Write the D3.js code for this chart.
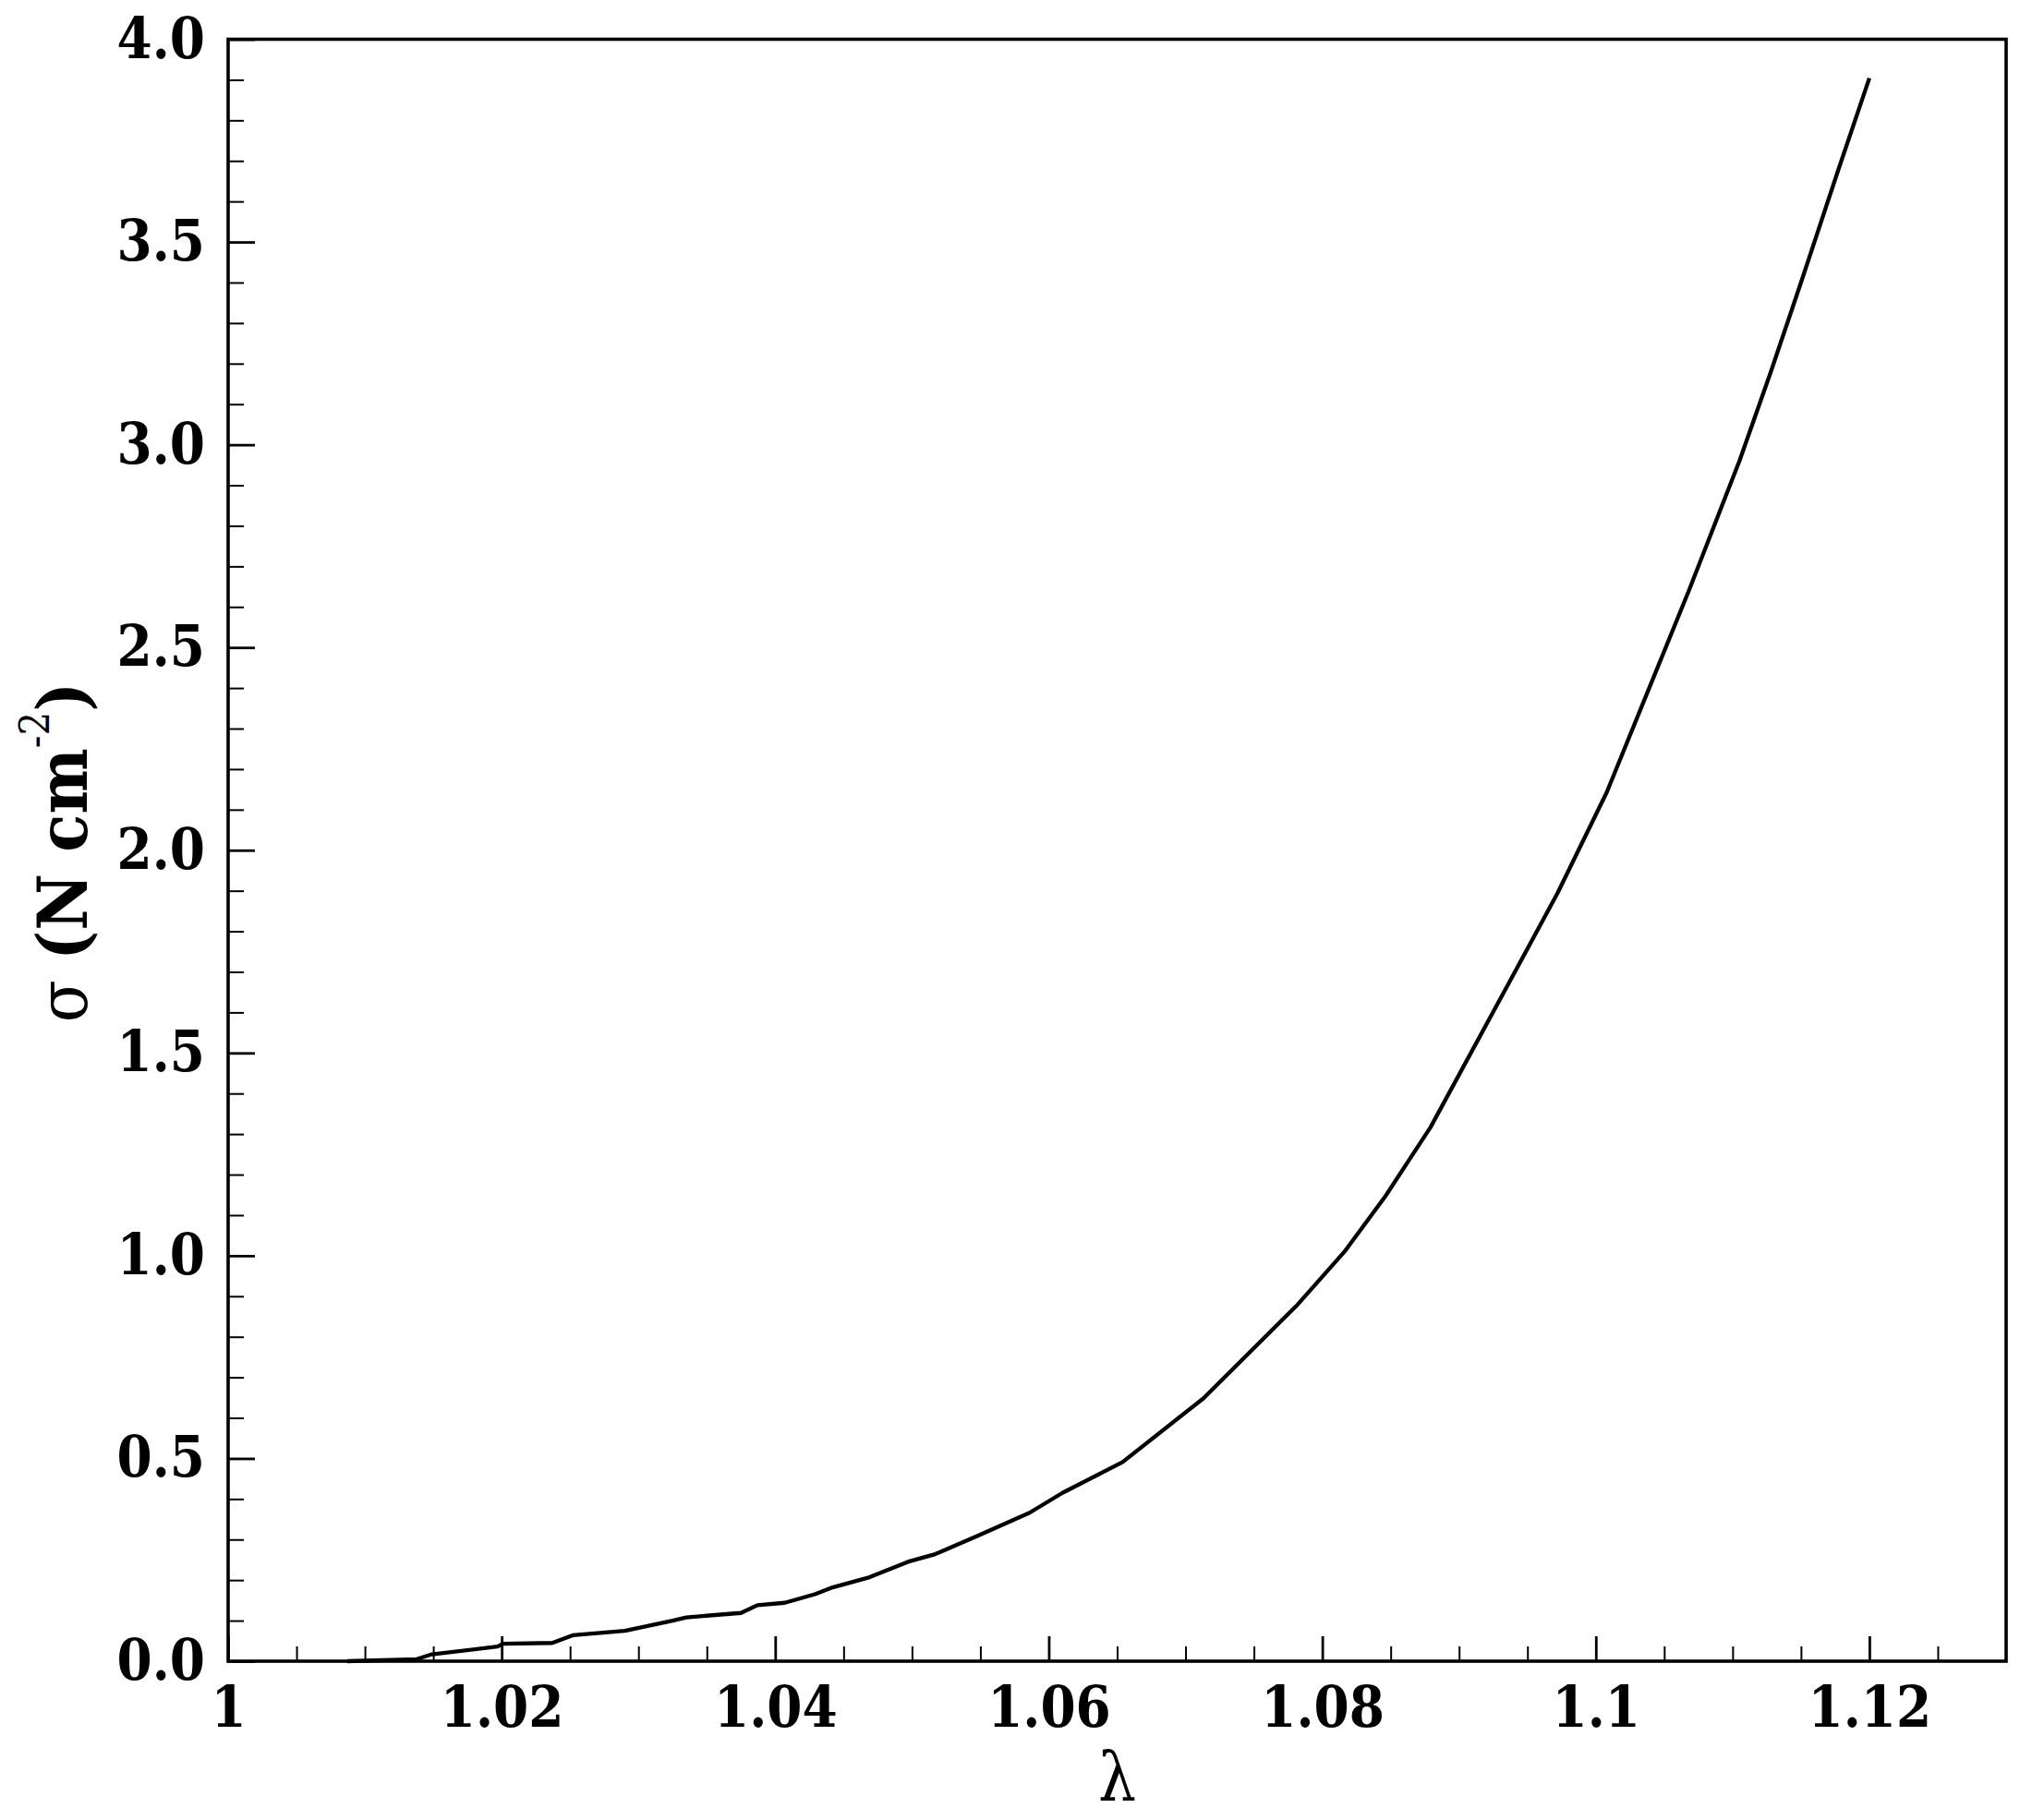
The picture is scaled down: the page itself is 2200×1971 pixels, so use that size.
<!DOCTYPE html>
<html>
<head>
<meta charset="utf-8">
<script src="https://cdn.jsdelivr.net/npm/d3@7"></script>
<style>
body{margin:0;background:#fff}
.tick text{font-family:"DejaVu Serif Condensed","DejaVu Serif",serif;font-stretch:condensed;font-weight:bold;font-size:61px;fill:#000}
.axis-title{font-family:"DejaVu Serif Condensed","DejaVu Serif",serif;font-stretch:condensed;fill:#000}
</style>
</head>
<body>
<div id="chart"></div>
<script>

// stretch (lambda) vs stress (sigma, N cm^-2)
const lambda=[1.0087,1.0138,1.0149,1.0197,1.0201,1.0237,1.0252,1.0290,1.0325,1.0335,1.0375,1.0387,1.0407,1.0429,1.0442,1.0469,1.0497,1.0517,1.0548,1.0586,1.0610,1.0654,1.0713,1.0781,1.0816,1.0846,1.0879,1.0937,1.0972,1.1008,1.1040,1.1068,1.1105,1.1128,1.1150,1.1177,1.1200]
const sigma=[0,0.005,0.017,0.036,0.043,0.045,0.064,0.075,0.100,0.108,0.119,0.138,0.144,0.165,0.182,0.207,0.245,0.264,0.309,0.366,0.415,0.491,0.648,0.876,1.009,1.146,1.316,1.676,1.894,2.143,2.408,2.640,2.960,3.180,3.400,3.675,3.904]

const xDomain=[1,1.13]
const yDomain=[0,4]
const xMajor=[1,1.02,1.04,1.06,1.08,1.1,1.12]
const xMinor=[1.005,1.01,1.015,1.025,1.03,1.035,1.045,1.05,1.055,1.065,1.07,1.075,1.085,1.09,1.095,1.105,1.11,1.115,1.125]
const yMajor=[0,0.5,1,1.5,2,2.5,3,3.5,4]
const yMinor=d3.range(0,40).filter(i=>i%5!==0).map(i=>i/10)

const margin=({top:42.5,right:28,bottom:172,left:247})
const width=2200-margin.left-margin.right,
  height=1971-margin.top-margin.bottom

let root=d3.select('#chart').append('svg')
	.attr('width',2200)
	.attr('height',1971)

let svg=root.append('g')
	.attr('transform','translate('+margin.left+','+margin.top+')')

let xScale=d3.scaleLinear()
	.domain(xDomain)
	.range([0,width])

let yScale=d3.scaleLinear()
	.domain(yDomain)
	.range([height,0])

// minor ticks first
svg.append('g')
	.attr('class','x-minor')
	.attr('transform',`translate(0,${height})`)
	.call(d3.axisBottom(xScale).tickValues(xMinor).tickSize(-16).tickFormat(''))

svg.append('g')
	.attr('class','y-minor')
	.call(d3.axisLeft(yScale).tickValues(yMinor).tickSize(-17).tickFormat(''))

svg.append('g')
	.attr('class','x-axis')
	.attr('transform',`translate(0,${height})`)
	.call(d3.axisBottom(xScale)
		.tickValues(xMajor)
		.tickSize(-27)
		.tickPadding(28)
		.tickFormat(d=>String(+d.toFixed(2))))

svg.append('g')
	.attr('class','y-axis')
	.call(d3.axisLeft(yScale)
		.tickValues(yMajor)
		.tickSize(-29)
		.tickPadding(25)
		.tickFormat(d3.format('.1f')))

svg.selectAll('.domain').remove()
svg.selectAll('.x-minor line,.y-minor line').attr('stroke','#000').attr('stroke-width',2)
svg.selectAll('.x-axis line,.y-axis line').attr('stroke','#000').attr('stroke-width',2.8)

// frame
svg.append('rect')
	.attr('x',0).attr('y',0)
	.attr('width',width).attr('height',height)
	.attr('fill','none')
	.attr('stroke','#000')
	.attr('stroke-width',3.6)

const data=lambda.map((l,i)=>({l:l,s:sigma[i]}))

const line=d3.line()
	.x(d=>xScale(d.l))
	.y(d=>yScale(d.s))

svg.append('path')
	.datum(data)
	.attr('fill','none')
	.attr('stroke','#000')
	.attr('stroke-width',4.3)
	.attr('stroke-linejoin','round')
	.attr('d',line)

// axis titles
root.append('text')
	.attr('class','axis-title')
	.attr('x',margin.left+width/2)
	.attr('y',1950)
	.attr('text-anchor','middle')
	.style('font-size','72px')
	.text('λ')

let yt=root.append('text')
	.attr('class','axis-title')
	.attr('transform','translate(94,923) rotate(-90)')
	.attr('text-anchor','middle')
	.style('font-size','75px')

yt.append('tspan').text('σ ')
yt.append('tspan').style('font-weight','bold').text('(N cm')
yt.append('tspan').attr('dy',-41).style('font-size','45px').text('-2')
yt.append('tspan').attr('dy',41).style('font-weight','bold').text(')')

</script>
</body>
</html>
